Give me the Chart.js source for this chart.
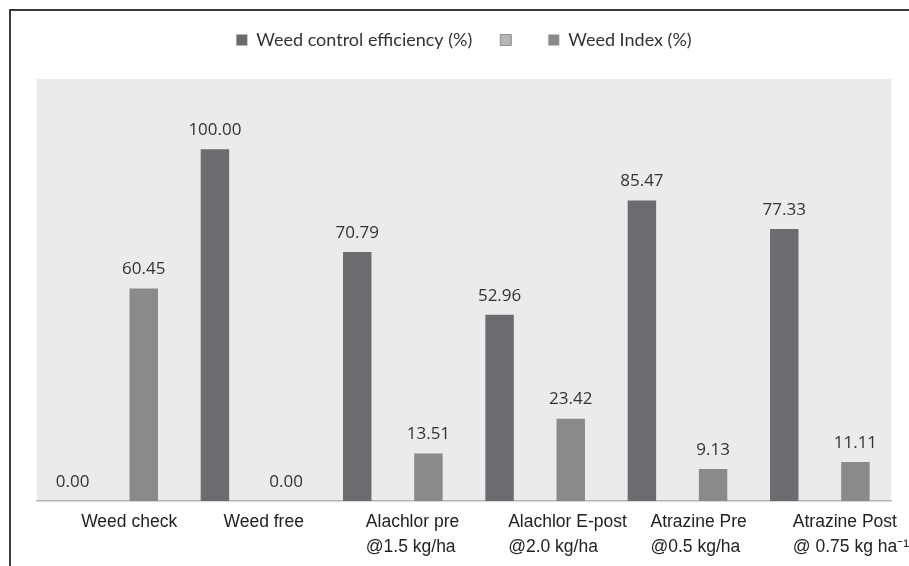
<!DOCTYPE html>
<html lang="en">
<head>
  <meta charset="UTF-8">
  <title>Weed control efficiency and weed index</title>
  <script src="https://cdn.jsdelivr.net/npm/chart.js"></script>
  <style>
    html, body {
      margin: 0;
      padding: 0;
      background: #fff;
      overflow: hidden;
    }
    #wrap {
      position: relative;
      width: 909px;
      height: 566px;
    }
    #frame {
      position: absolute;
      left: 9px;
      top: 9px;
      width: 1000px;
      height: 1000px;
      border-left: 2px solid #3a3a3a;
      border-top: 2px solid #3a3a3a;
      pointer-events: none;
    }
    canvas {
      position: absolute;
      left: 0;
      top: 0;
    }
  </style>
</head>
<body>
  <div id="wrap">
    <canvas id="weedChart" width="909" height="566"></canvas>
    <div id="frame"></div>
  </div>

  <script>
    const categories = [
      'Weed check',
      'Weed free',
      ['Alachlor pre', '@1.5 kg/ha'],
      ['Alachlor E-post', '@2.0 kg/ha'],
      ['Atrazine Pre', '@0.5 kg/ha'],
      ['Atrazine Post', '@ 0.75 kg ha\u207B\u00B9']
    ];
    const seriesNames = ['Weed control efficiency (%)', '', 'Weed Index (%)'];
    const weedControlEfficiency = [0.00, 100.00, 70.79, 52.96, 85.47, 77.33];
    const weedIndex = [60.45, 0.00, 13.51, 23.42, 9.13, 11.11];

    // grey plot background
    const plotBackground = {
      id: 'plotBackground',
      beforeDraw(chart) {
        const a = chart.chartArea;
        const ctx = chart.ctx;
        ctx.save();
        ctx.fillStyle = '#ebebeb';
        ctx.fillRect(a.left, a.top, a.right - a.left, a.bottom - a.top);
        ctx.restore();
      }
    };

    // value labels above the bars
    const valueLabels = {
      id: 'valueLabels',
      afterDatasetsDraw(chart) {
        const ctx = chart.ctx;
        ctx.save();
        ctx.font = '17px "Open Sans", sans-serif';
        ctx.fillStyle = '#333';
        ctx.textAlign = 'center';
        ctx.textBaseline = 'middle';
        chart.data.datasets.forEach((ds, i) => {
          chart.getDatasetMeta(i).data.forEach((bar, j) => {
            ctx.fillText(ds.data[j].toFixed(2), bar.x, bar.y - 19);
          });
        });
        ctx.restore();
      }
    };

    // extra room between legend and plot
    const legendGap = {
      id: 'legendGap',
      beforeInit(chart) {
        const fit = chart.legend.fit;
        chart.legend.fit = function () {
          fit.call(this);
          this.height += 20;
        };
      }
    };

    const ctx = document.getElementById('weedChart').getContext('2d');
    const chart = new Chart(ctx, {
      type: 'bar',
      data: {
        labels: categories,
        datasets: [
          {
            label: seriesNames[0],
            data: weedControlEfficiency,
            backgroundColor: '#6b6c6f',
            borderWidth: 0
          },
          {
            label: seriesNames[2],
            data: weedIndex,
            backgroundColor: '#8a8a8d',
            borderWidth: 0
          }
        ]
      },
      options: {
        responsive: false,
        animation: false,
        categoryPercentage: 1.0,
        barPercentage: 0.4,
        layout: {
          padding: { top: 3, left: 37, right: 18, bottom: 0 }
        },
        plugins: {
          tooltip: { enabled: false },
          legend: {
            position: 'top',
            labels: {
              boxWidth: 11,
              boxHeight: 11,
              padding: 28,
              color: '#333',
              font: { family: 'Lato', size: 18 },
              generateLabels(chart) {
                const items = Chart.defaults.plugins.legend.labels.generateLabels(chart);
                // the original has an empty middle entry
                items.splice(1, 0, {
                  text: seriesNames[1],
                  fillStyle: '#b5b5b7',
                  strokeStyle: '#8e8e90',
                  lineWidth: 1,
                  hidden: false
                });
                return items;
              }
            }
          }
        },
        scales: {
          x: {
            grid: { display: false, drawTicks: false },
            border: { display: true, color: '#b3b3b3', width: 1.5 },
            ticks: {
              align: 'start',
              labelOffset: -27,
              padding: 9,
              maxRotation: 0,
              autoSkip: false,
              color: '#222',
              font: { family: '"Liberation Sans", Arial, sans-serif', size: 17.5, lineHeight: 1.43 }
            },
            afterFit(scale) {
              // labels are shifted left, so no overhang padding is needed
              scale.paddingLeft = 0;
              scale.paddingRight = 0;
              scale.height = 65;
            }
          },
          y: {
            display: false,
            min: 0,
            max: 120
          }
        }
      },
      plugins: [plotBackground, valueLabels, legendGap]
    });
  </script>
</body>
</html>
